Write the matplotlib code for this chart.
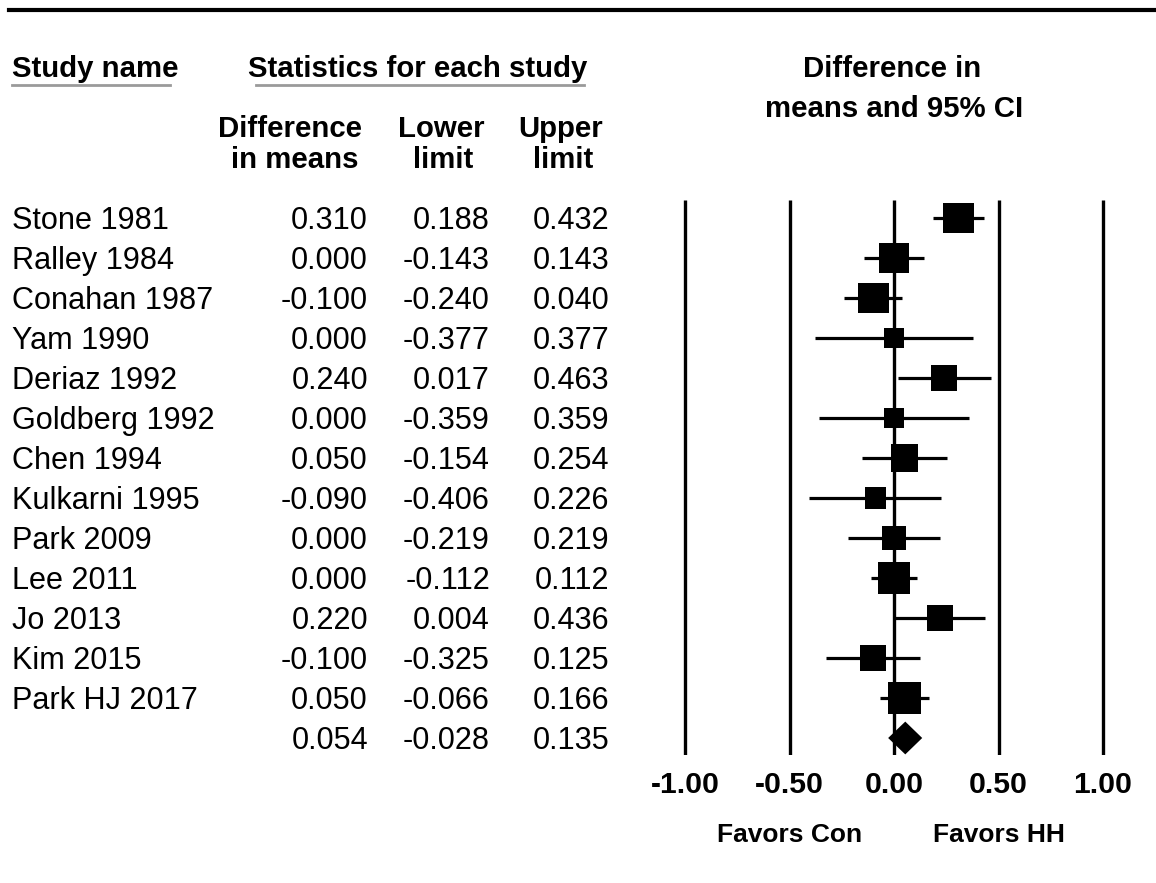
import matplotlib
matplotlib.use("Agg")
import matplotlib.pyplot as plt
from matplotlib.lines import Line2D
from matplotlib.transforms import blended_transform_factory
import numpy as np

plt.rcParams['font.family'] = ['Liberation Sans', 'DejaVu Sans']

# ---------------- data ----------------
studies = ["Stone 1981", "Ralley 1984", "Conahan 1987", "Yam 1990", "Deriaz 1992",
           "Goldberg 1992", "Chen 1994", "Kulkarni 1995", "Park 2009", "Lee 2011",
           "Jo 2013", "Kim 2015", "Park HJ 2017"]
diff = [0.310, 0.000, -0.100, 0.000, 0.240, 0.000, 0.050, -0.090, 0.000, 0.000, 0.220, -0.100, 0.050]
lower = [0.188, -0.143, -0.240, -0.377, 0.017, -0.359, -0.154, -0.406, -0.219, -0.112, 0.004, -0.325, -0.066]
upper = [0.432, 0.143, 0.040, 0.377, 0.463, 0.359, 0.254, 0.226, 0.219, 0.112, 0.436, 0.125, 0.166]
weights = [10.0, 9.4, 10.0, 4.2, 7.0, 4.2, 7.6, 4.6, 6.5, 11.3, 7.0, 7.0, 11.3]  # relative weight (%)
summary_diff = 0.054
summary_lower = -0.028
summary_upper = 0.135
ticks = [-1.00, -0.50, 0.00, 0.50, 1.00]
tick_labels = ["-1.00", "-0.50", "0.00", "0.50", "1.00"]
favors_left = "Favors Con"
favors_right = "Favors HH"

# ---------------- layout ----------------
W, H, DPI = 1156, 883, 100
fig = plt.figure(figsize=(W / DPI, H / DPI), dpi=DPI)
fig.patch.set_facecolor('white')

def fx(px):
    return px / W

def fy(py):
    return 1 - py / H

row0, rowstep = 218, 40          # pixel y of first row, spacing
top_px, bot_px = 200, 755        # extent of vertical reference lines
x0_px, xscale = 894, 209         # pixel of 0 and pixels per unit
axl, axr = 640, 1156

ax = fig.add_axes([fx(axl), fy(bot_px), fx(axr) - fx(axl), (bot_px - top_px) / H])
ax.set_xlim((axl - x0_px) / xscale, (axr - x0_px) / xscale)
ylo = (top_px - row0) / rowstep
yhi = (bot_px - row0) / rowstep
ax.set_ylim(yhi, ylo)
for s in ax.spines.values():
    s.set_visible(False)
ax.set_yticks([])
ax.set_xticks(ticks)
ax.set_xticklabels(tick_labels, fontsize=21.7, fontweight='bold')
ax.tick_params(axis='x', length=0, pad=11.5)

n = len(studies)
rows = np.arange(n)

ax.vlines(ticks, ylo, yhi, color='black', lw=2.4, zorder=1)
ax.hlines(rows, lower, upper, color='black', lw=2.3, zorder=2)
side_pt = 9.8 * np.sqrt(np.array(weights)) * 0.72
ax.scatter(diff, rows, marker='s', s=side_pt ** 2, color='black', linewidths=0, zorder=3)

sr = n
ax.fill([summary_lower, summary_diff, summary_upper, summary_diff],
        [sr, sr - 0.41, sr, sr + 0.41], color='black', lw=0, zorder=3)

# favors labels
tr_fav = blended_transform_factory(ax.transData, fig.transFigure)
ax.text(-0.5, fy(842), favors_left, transform=tr_fav, ha='center', va='baseline',
        fontsize=19, fontweight='bold')
ax.text(0.5, fy(842), favors_right, transform=tr_fav, ha='center', va='baseline',
        fontsize=19, fontweight='bold')

# ---------------- table text ----------------
tr = blended_transform_factory(fig.transFigure, ax.transData)
FS = 22.1
bl = 11 / rowstep   # baseline offset below row centre
for i in range(n):
    ax.text(fx(12), i + bl, studies[i], transform=tr, ha='left', va='baseline', fontsize=FS, clip_on=False)
    ax.text(fx(368), i + bl, f"{diff[i]:.3f}", transform=tr, ha='right', va='baseline', fontsize=FS, clip_on=False)
    ax.text(fx(490), i + bl, f"{lower[i]:.3f}", transform=tr, ha='right', va='baseline', fontsize=FS, clip_on=False)
    ax.text(fx(609), i + bl, f"{upper[i]:.3f}", transform=tr, ha='right', va='baseline', fontsize=FS, clip_on=False)
ax.text(fx(368), sr + bl, f"{summary_diff:.3f}", transform=tr, ha='right', va='baseline', fontsize=FS, clip_on=False)
ax.text(fx(490), sr + bl, f"{summary_lower:.3f}", transform=tr, ha='right', va='baseline', fontsize=FS, clip_on=False)
ax.text(fx(609), sr + bl, f"{summary_upper:.3f}", transform=tr, ha='right', va='baseline', fontsize=FS, clip_on=False)

# ---------------- headers ----------------
HFS = 21.2
def head(xp, yp, s, ha='center'):
    fig.text(fx(xp), fy(yp), s, ha=ha, va='baseline', fontsize=HFS, fontweight='bold')

head(12, 77, "Study name", ha='left')
head(418, 77, "Statistics for each study")
head(892, 77, "Difference in")
head(894, 117, "means and 95% CI")
head(290, 137, "Difference")
head(295, 168, "in means")
head(441, 137, "Lower")
head(443, 168, "limit")
head(561, 137, "Upper")
head(563, 168, "limit")

# rules
fig.add_artist(Line2D([fx(9), fx(1156)], [fy(10), fy(10)], color='black', lw=3.0))
fig.add_artist(Line2D([fx(12), fx(170)], [fy(84.5), fy(84.5)], color='#9a9a9a', lw=2.0))
fig.add_artist(Line2D([fx(256), fx(584)], [fy(84.5), fy(84.5)], color='#9a9a9a', lw=2.0))

fig.savefig("out.png", dpi=DPI, facecolor='white')
